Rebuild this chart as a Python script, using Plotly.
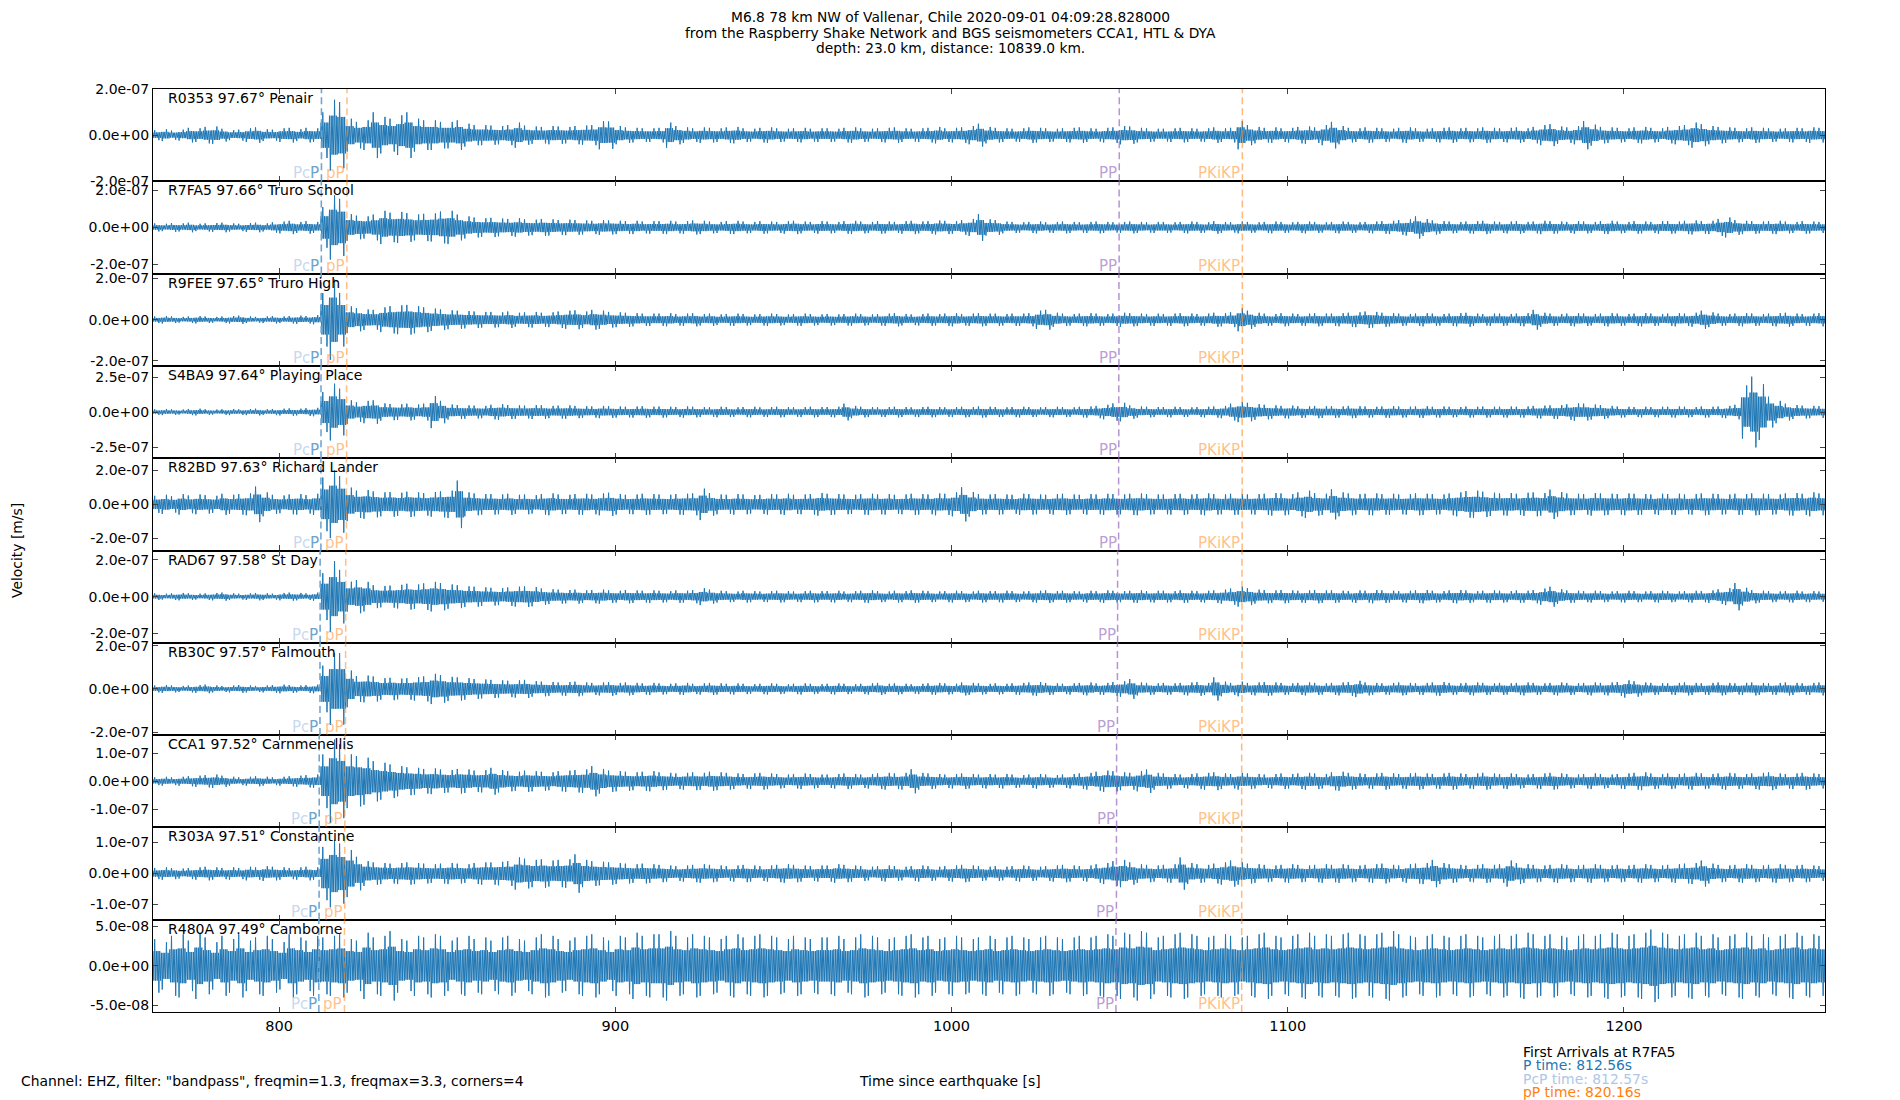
import plotly.graph_objects as go
from plotly.subplots import make_subplots

# stations, top to bottom
stations = ['R0353', 'R7FA5', 'R9FEE', 'S4BA9', 'R82BD', 'RAD67', 'RB30C', 'CCA1', 'R303A', 'R480A']
distances = [97.67, 97.66, 97.65, 97.64, 97.63, 97.58, 97.57, 97.52, 97.51, 97.49]
places = ['Penair', 'Truro School', 'Truro High', 'Playing Place', 'Richard Lander',
          'St Day', 'Falmouth', 'Carnmenellis', 'Constantine', 'Camborne']

# arrival times [s]
p_times = [812.60, 812.56, 812.52, 812.47, 812.43, 812.21, 812.16, 811.94, 811.90, 811.81]
pcp_times = [812.61, 812.57, 812.53, 812.48, 812.44, 812.22, 812.17, 811.95, 811.91, 811.82]
pp_small_times = [820.20, 820.16, 820.12, 820.08, 820.04, 819.82, 819.78, 819.56, 819.52, 819.44]
PP_times = [1049.9, 1049.85, 1049.8, 1049.75, 1049.7, 1049.4, 1049.35, 1049.1, 1049.05, 1048.9]
pkikp_times = [1086.5, 1086.5, 1086.5, 1086.45, 1086.45, 1086.4, 1086.4, 1086.3, 1086.3, 1086.3]

# y axis half ranges and tick values [m/s]
y_half = [2.02e-7, 2.5e-7, 2.24e-7, 3.3e-7, 2.7e-7, 2.5e-7, 2.14e-7, 1.65e-7, 1.49e-7, 5.85e-8]
y_tick = [2e-7, 2e-7, 2e-7, 2.5e-7, 2e-7, 2e-7, 2e-7, 1e-7, 1e-7, 5e-8]

# trace envelope, peak amplitude per 2.5 s window starting at 762.5 s [nm/s]
t_start = 762.5
bin_w = 2.5

amp_R0353 = [22, 26, 20, 24, 32, 30, 36, 38, 28, 22, 24, 30, 34, 26, 24, 30, 32, 26, 32, 30,
             100, 155, 145, 72, 58, 65, 100, 80, 72, 87, 100, 72, 65, 65, 58, 58, 65, 50, 44, 44,
             42, 40, 44, 55, 42, 38, 36, 40, 38, 36, 40, 42, 44, 62, 60, 40, 34, 32, 30, 30,
             32, 55, 40, 34, 30, 34, 32, 30, 34, 36, 30, 28, 32, 34, 30, 28, 30, 32, 28, 30,
             30, 28, 32, 34, 30, 28, 30, 32, 34, 30, 28, 30, 32, 36, 30, 32, 34, 40, 50, 36,
             32, 30, 28, 30, 34, 32, 30, 28, 30, 32, 34, 30, 28, 32, 34, 40, 38, 32, 30, 28,
             28, 30, 32, 30, 28, 30, 34, 30, 32, 62, 44, 36, 32, 34, 30, 32, 36, 38, 34, 44,
             58, 40, 32, 30, 34, 32, 30, 28, 32, 34, 30, 28, 30, 32, 34, 30, 32, 30, 34, 32,
             30, 32, 34, 30, 36, 44, 48, 38, 34, 40, 62, 46, 36, 34, 32, 30, 34, 36, 32, 30,
             36, 40, 44, 55, 48, 40, 36, 34, 32, 30, 34, 32, 30, 28, 30, 32, 30, 34, 32, 30]
amp_R7FA5 = [22, 20, 24, 22, 26, 20, 22, 24, 26, 22, 20, 24, 26, 22, 28, 32, 36, 30, 34, 30,
             110, 174, 155, 72, 64, 60, 70, 90, 80, 84, 78, 70, 74, 76, 86, 90, 70, 60, 54, 50,
             52, 48, 46, 50, 44, 42, 46, 44, 40, 42, 40, 38, 36, 40, 38, 36, 34, 36, 32, 34,
             34, 36, 32, 34, 38, 36, 32, 30, 34, 36, 32, 30, 34, 32, 30, 34, 36, 32, 30, 34,
             32, 30, 34, 36, 32, 30, 34, 32, 30, 34, 36, 32, 34, 38, 36, 34, 40, 46, 72, 44,
             40, 32, 30, 28, 30, 32, 28, 30, 32, 30, 28, 30, 32, 30, 28, 30, 32, 30, 28, 30,
             30, 28, 30, 32, 30, 28, 34, 30, 28, 32, 30, 28, 30, 32, 30, 28, 30, 32, 30, 28,
             30, 32, 30, 28, 30, 32, 34, 36, 40, 44, 60, 46, 38, 34, 32, 30, 32, 34, 36, 32,
             30, 32, 34, 30, 32, 36, 34, 32, 30, 34, 32, 30, 34, 36, 32, 30, 34, 32, 30, 34,
             34, 32, 36, 38, 34, 36, 46, 54, 40, 36, 34, 32, 34, 36, 32, 30, 34, 32, 30, 34]
amp_R9FEE = [16, 18, 16, 14, 16, 18, 16, 14, 16, 18, 20, 16, 14, 16, 18, 16, 18, 20, 18, 22,
             130, 195, 130, 65, 56, 50, 48, 60, 66, 70, 72, 66, 60, 54, 50, 46, 44, 42, 40, 38,
             38, 36, 40, 34, 36, 38, 34, 36, 40, 44, 46, 40, 48, 44, 38, 36, 34, 32, 30, 30,
             30, 32, 28, 30, 32, 28, 30, 26, 28, 30, 28, 26, 28, 30, 28, 26, 28, 30, 28, 26,
             28, 26, 28, 30, 28, 26, 28, 30, 32, 28, 26, 28, 30, 28, 30, 32, 28, 30, 32, 30,
             30, 28, 30, 30, 32, 44, 48, 34, 30, 28, 30, 32, 30, 28, 30, 34, 32, 30, 28, 30,
             28, 30, 32, 30, 28, 30, 34, 32, 36, 56, 44, 34, 30, 28, 32, 30, 28, 30, 32, 30,
             30, 32, 34, 36, 40, 38, 34, 32, 30, 28, 30, 32, 30, 28, 30, 32, 34, 30, 28, 30,
             30, 28, 30, 32, 48, 34, 30, 28, 30, 32, 30, 28, 30, 32, 30, 28, 30, 32, 30, 28,
             30, 32, 30, 34, 44, 36, 30, 28, 30, 32, 30, 28, 30, 32, 34, 30, 28, 30, 32, 30]
amp_S4BA9 = [20, 22, 20, 18, 22, 24, 20, 18, 20, 22, 20, 22, 24, 20, 22, 24, 26, 24, 28, 30,
             143, 203, 167, 84, 70, 80, 84, 62, 58, 56, 60, 54, 60, 115, 80, 54, 50, 48, 46, 44,
             52, 56, 50, 48, 46, 50, 48, 44, 46, 48, 44, 42, 40, 44, 42, 40, 38, 40, 42, 38,
             40, 38, 36, 40, 38, 36, 34, 38, 36, 34, 36, 38, 34, 36, 38, 36, 34, 36, 38, 36,
             36, 38, 60, 44, 38, 36, 34, 36, 38, 36, 34, 36, 38, 36, 34, 36, 38, 36, 40, 38,
             36, 34, 36, 38, 36, 34, 36, 38, 36, 34, 38, 40, 44, 52, 62, 66, 48, 40, 38, 36,
             36, 38, 36, 34, 36, 38, 40, 44, 60, 72, 66, 56, 52, 48, 44, 46, 42, 40, 44, 42,
             42, 40, 44, 42, 40, 38, 40, 42, 40, 38, 40, 42, 38, 40, 38, 36, 40, 38, 40, 38,
             38, 40, 38, 40, 44, 46, 48, 50, 56, 62, 60, 54, 50, 44, 40, 38, 36, 38, 36, 38,
             38, 40, 38, 36, 40, 38, 40, 44, 52, 190, 253, 200, 110, 80, 60, 50, 46, 44, 42, 40]
amp_R82BD = [50, 56, 48, 60, 52, 58, 54, 50, 62, 56, 60, 64, 104, 70, 56, 52, 58, 60, 54, 62,
             157, 198, 166, 98, 80, 84, 76, 70, 72, 68, 74, 70, 66, 72, 76, 80, 139, 70, 64, 60,
             60, 58, 62, 56, 58, 54, 60, 64, 58, 56, 60, 62, 58, 64, 68, 60, 56, 58, 62, 60,
             58, 56, 60, 62, 64, 92, 66, 58, 56, 60, 58, 54, 56, 60, 58, 62, 56, 58, 60, 66,
             62, 60, 58, 56, 60, 62, 58, 60, 56, 58, 62, 60, 58, 64, 62, 70, 100, 72, 60, 58,
             60, 58, 56, 62, 60, 58, 56, 60, 62, 58, 56, 60, 58, 62, 60, 58, 62, 64, 60, 58,
             58, 60, 62, 58, 60, 64, 60, 58, 62, 60, 58, 60, 62, 66, 64, 60, 70, 80, 66, 62,
             88, 70, 64, 60, 62, 64, 60, 62, 58, 60, 64, 62, 60, 58, 64, 70, 78, 80, 74, 68,
             64, 66, 62, 68, 70, 66, 86, 72, 64, 62, 60, 66, 64, 62, 60, 64, 62, 60, 58, 62,
             60, 62, 58, 60, 64, 62, 60, 58, 62, 60, 64, 62, 60, 58, 64, 66, 62, 70, 64, 60]
amp_RAD67 = [18, 16, 18, 20, 18, 16, 18, 20, 22, 18, 16, 18, 20, 18, 16, 20, 22, 20, 18, 22,
             127, 192, 145, 81, 90, 80, 62, 58, 60, 64, 70, 66, 72, 80, 74, 66, 62, 56, 54, 50,
             48, 46, 50, 54, 56, 52, 44, 40, 38, 36, 38, 34, 36, 38, 34, 32, 36, 34, 32, 34,
             32, 30, 34, 32, 36, 46, 38, 32, 30, 28, 32, 30, 28, 30, 32, 30, 28, 30, 32, 30,
             30, 32, 28, 30, 32, 34, 30, 28, 32, 30, 34, 32, 30, 28, 30, 32, 30, 28, 32, 30,
             30, 32, 30, 28, 30, 32, 34, 30, 32, 30, 28, 32, 30, 34, 32, 30, 32, 34, 30, 32,
             32, 30, 34, 32, 30, 32, 34, 38, 44, 54, 46, 38, 36, 34, 36, 34, 32, 34, 36, 34,
             34, 32, 30, 34, 32, 36, 34, 32, 30, 32, 34, 36, 32, 30, 34, 36, 34, 30, 32, 34,
             32, 30, 34, 32, 36, 44, 54, 40, 34, 32, 30, 32, 30, 28, 30, 32, 30, 28, 30, 32,
             30, 28, 30, 32, 30, 34, 40, 46, 74, 48, 36, 32, 30, 28, 30, 32, 28, 30, 28, 30]
amp_RB30C = [16, 18, 16, 14, 16, 18, 20, 16, 14, 16, 18, 16, 14, 16, 18, 20, 18, 16, 18, 20,
             108, 167, 166, 85, 60, 62, 58, 50, 52, 48, 50, 54, 58, 70, 64, 56, 54, 50, 46, 44,
             42, 40, 38, 40, 42, 36, 34, 32, 30, 32, 34, 30, 28, 30, 32, 28, 30, 28, 26, 28,
             26, 24, 26, 28, 24, 26, 28, 26, 24, 26, 24, 22, 24, 26, 24, 22, 24, 26, 24, 22,
             24, 26, 24, 22, 24, 26, 28, 24, 26, 24, 22, 24, 26, 28, 26, 24, 30, 28, 26, 24,
             26, 24, 26, 28, 30, 32, 28, 26, 24, 26, 28, 30, 26, 28, 32, 36, 46, 30, 28, 26,
             28, 26, 28, 30, 32, 28, 54, 34, 28, 34, 28, 30, 32, 30, 28, 26, 28, 30, 28, 26,
             28, 30, 32, 38, 30, 28, 26, 28, 30, 28, 26, 28, 30, 32, 28, 26, 28, 30, 28, 26,
             28, 26, 28, 30, 28, 26, 28, 30, 28, 26, 28, 30, 28, 30, 32, 40, 36, 30, 28, 26,
             26, 28, 30, 28, 26, 28, 30, 28, 26, 28, 30, 28, 26, 28, 30, 28, 26, 28, 30, 28]
amp_CCA1 = [14, 16, 14, 16, 18, 20, 22, 24, 20, 16, 14, 16, 18, 16, 14, 16, 18, 20, 22, 24,
            96, 149, 132, 96, 90, 84, 72, 66, 60, 54, 50, 48, 44, 46, 42, 40, 44, 42, 38, 40,
            48, 40, 36, 34, 38, 36, 34, 32, 36, 38, 40, 42, 54, 44, 38, 36, 34, 32, 34, 36,
            32, 30, 28, 30, 32, 30, 34, 32, 30, 28, 26, 28, 30, 28, 26, 24, 26, 28, 26, 24,
            24, 26, 28, 26, 24, 26, 28, 30, 28, 30, 43, 30, 28, 26, 24, 26, 28, 26, 24, 26,
            24, 26, 24, 22, 24, 26, 24, 22, 24, 26, 28, 30, 34, 38, 36, 32, 30, 36, 42, 30,
            28, 26, 24, 26, 28, 30, 32, 28, 26, 30, 28, 26, 24, 26, 28, 26, 28, 30, 28, 26,
            32, 34, 30, 28, 26, 28, 30, 28, 26, 28, 30, 28, 26, 28, 30, 28, 26, 28, 30, 28,
            26, 28, 26, 24, 26, 28, 30, 28, 26, 24, 26, 28, 26, 24, 26, 28, 30, 32, 28, 26,
            28, 26, 28, 30, 28, 26, 28, 30, 28, 26, 28, 30, 32, 28, 26, 28, 30, 28, 26, 28]
amp_R303A = [18, 20, 18, 16, 18, 20, 22, 20, 18, 20, 18, 22, 20, 24, 22, 20, 18, 20, 22, 20,
             86, 109, 97, 76, 54, 40, 36, 34, 32, 34, 36, 34, 32, 30, 32, 34, 32, 30, 34, 36,
             36, 38, 40, 52, 48, 44, 46, 42, 44, 46, 62, 44, 40, 38, 36, 34, 32, 30, 32, 30,
             28, 26, 24, 26, 28, 30, 28, 26, 24, 26, 28, 26, 24, 26, 28, 30, 28, 26, 24, 26,
             26, 30, 28, 26, 24, 22, 24, 26, 24, 22, 24, 26, 24, 22, 24, 26, 28, 26, 24, 22,
             24, 22, 24, 26, 24, 22, 24, 26, 28, 26, 24, 26, 30, 34, 40, 44, 36, 30, 28, 26,
             28, 30, 52, 34, 30, 28, 32, 36, 42, 36, 32, 30, 28, 26, 28, 30, 28, 26, 28, 30,
             28, 30, 28, 26, 28, 30, 32, 28, 26, 30, 32, 34, 44, 34, 30, 28, 26, 28, 30, 28,
             30, 42, 34, 30, 28, 26, 28, 30, 28, 26, 28, 30, 28, 26, 28, 26, 28, 30, 28, 26,
             28, 30, 32, 34, 42, 32, 28, 26, 28, 30, 28, 26, 28, 30, 28, 26, 28, 26, 24, 26]
amp_R480A = [34, 30, 38, 40, 32, 42, 36, 30, 38, 34, 40, 32, 36, 38, 34, 30, 40, 36, 32, 38,
             36, 38, 40, 34, 32, 42, 36, 38, 44, 34, 32, 38, 36, 40, 38, 32, 36, 38, 34, 36,
             32, 36, 38, 34, 32, 36, 40, 38, 34, 32, 36, 38, 40, 36, 32, 38, 36, 42, 38, 40,
             40, 44, 38, 36, 40, 38, 36, 34, 38, 40, 36, 38, 40, 38, 36, 34, 38, 36, 34, 36,
             36, 38, 34, 36, 40, 38, 36, 34, 36, 38, 40, 36, 38, 34, 36, 38, 36, 34, 36, 38,
             34, 36, 38, 36, 34, 36, 38, 36, 34, 36, 38, 36, 38, 40, 38, 42, 40, 44, 42, 36,
             38, 40, 42, 40, 38, 36, 38, 40, 38, 36, 38, 40, 42, 38, 36, 38, 40, 42, 38, 40,
             38, 40, 42, 40, 38, 40, 42, 44, 40, 38, 36, 38, 40, 38, 36, 38, 40, 38, 36, 38,
             40, 38, 40, 42, 40, 38, 40, 38, 36, 38, 40, 38, 40, 42, 40, 38, 40, 42, 46, 42,
             40, 38, 40, 42, 38, 40, 36, 38, 40, 42, 38, 40, 36, 38, 40, 42, 38, 40, 38, 36]

amps = [amp_R0353, amp_R7FA5, amp_R9FEE, amp_S4BA9, amp_R82BD,
        amp_RAD67, amp_RB30C, amp_CCA1, amp_R303A, amp_R480A]

x_ticks = [800, 900, 1000, 1100, 1200]

FONT = 'DejaVu Sans'
W, H = 1900, 1100
L, R, T, B = 153, 75, 89, 88


def wiggle(a_list):
    # each window: dense smaller swings plus one up and one down peak,
    # peaks put at different spots in alternate windows
    ts, vs = [], []
    for k, a in enumerate(a_list):
        t0 = t_start + k * bin_w
        c = a * 0.55
        if k % 2 == 0:
            swing = [c, -c, a, -c, c, -c, c, -a, c, -c]
        else:
            swing = [c, -a, c, -c, c, -c, a, -c, c, -c]
        for j, v in enumerate(swing):
            ts.append(t0 + j * bin_w / len(swing))
            vs.append(v * 1e-9)
    return ts, vs


def px(xs, ys):
    # picture pixel -> paper coords
    return (xs - L) / (W - L - R), (H - B - ys) / (H - T - B)


n = len(stations)
fig = make_subplots(rows=n, cols=1, shared_xaxes=True, vertical_spacing=0)

for i in range(n):
    ts, vs = wiggle(amps[i])
    fig.add_trace(go.Scatter(x=ts, y=vs, mode='lines', line=dict(color='#1f77b4', width=1),
                             showlegend=False, hoverinfo='skip'), row=i + 1, col=1)

    xr = 'x' if i == 0 else 'x%d' % (i + 1)
    yr = 'y' if i == 0 else 'y%d' % (i + 1)

    lines = [(pcp_times[i], 'rgba(174,199,232,0.9)'),
             (p_times[i], 'rgba(31,119,180,0.45)'),
             (pp_small_times[i], 'rgba(255,127,14,0.5)'),
             (PP_times[i], 'rgba(148,103,189,0.7)'),
             (pkikp_times[i], 'rgba(255,127,14,0.55)')]
    for tx, col in lines:
        fig.add_shape(type='line', xref=xr, yref=yr + ' domain', x0=tx, x1=tx, y0=0, y1=1,
                      line=dict(color=col, width=1.5, dash='7px,4px'))

    labels = [(pcp_times[i], 'PcP', 'rgba(174,199,232,0.7)'),
              (p_times[i], 'P', 'rgba(31,119,180,0.55)'),
              (pp_small_times[i], 'pP', 'rgba(255,127,14,0.5)'),
              (PP_times[i], 'PP', 'rgba(148,103,189,0.65)'),
              (pkikp_times[i], 'PKiKP', 'rgba(255,127,14,0.5)')]
    for tx, txt, col in labels:
        fig.add_annotation(x=tx, y=0, xref=xr, yref=yr + ' domain', text=txt, showarrow=False,
                           xanchor='right', yanchor='bottom', xshift=0, yshift=-3,
                           font=dict(family=FONT, size=15, color=col))

    fig.add_annotation(x=0.008, y=1, xref=xr + ' domain', yref=yr + ' domain',
                       text='%s %.2f° %s' % (stations[i], distances[i], places[i]),
                       showarrow=False, xanchor='left', yanchor='top', yshift=1,
                       font=dict(family=FONT, size=14, color='black'))

    yt = [y_tick[i], 0, -y_tick[i]]
    fig.update_yaxes(row=i + 1, col=1, range=[-y_half[i], y_half[i]], tickvals=yt,
                     ticktext=['%.1e' % v for v in yt], ticks='inside', ticklen=5,
                     showline=True, linecolor='black', linewidth=1.3, mirror='ticks',
                     showgrid=False, zeroline=False,
                     tickfont=dict(family=FONT, size=14, color='black'))
    fig.update_xaxes(row=i + 1, col=1, range=[762.5, 1259.8], tickvals=x_ticks,
                     ticks='inside', ticklen=5, showline=True, linecolor='black',
                     linewidth=1.3, mirror='ticks', showgrid=False, zeroline=False,
                     tickfont=dict(family=FONT, size=14.5, color='black'))

# titles and side texts
title_lines = ['M6.8 78 km NW of Vallenar, Chile 2020-09-01 04:09:28.828000',
               'from the Raspberry Shake Network and BGS seismometers CCA1, HTL & DYA',
               'depth: 23.0 km, distance: 10839.0 km.']
for k, line in enumerate(title_lines):
    xp, yp = px(950, 17 + 15.5 * k)
    fig.add_annotation(x=xp, y=yp, xref='paper', yref='paper', text=line, showarrow=False,
                       xanchor='center', yanchor='middle',
                       font=dict(family=FONT, size=13.8, color='black'))

xp, yp = px(19, 1081)
fig.add_annotation(x=xp, y=yp, xref='paper', yref='paper',
                   text='Channel: EHZ, filter: "bandpass", freqmin=1.3, freqmax=3.3, corners=4',
                   showarrow=False, xanchor='left', yanchor='middle',
                   font=dict(family=FONT, size=13.9, color='black'))
xp, yp = px(950, 1081)
fig.add_annotation(x=xp, y=yp, xref='paper', yref='paper', text='Time since earthquake [s]',
                   showarrow=False, xanchor='center', yanchor='middle',
                   font=dict(family=FONT, size=13.9, color='black'))
xp, yp = px(17, 551)
fig.add_annotation(x=xp, y=yp, xref='paper', yref='paper', text='Velocity [m/s]',
                   showarrow=False, textangle=-90, xanchor='center', yanchor='middle',
                   font=dict(family=FONT, size=13.9, color='black'))

arrivals = [('First Arrivals at R7FA5', 'black'),
            ('P time: 812.56s', '#1f77b4'),
            ('PcP time: 812.57s', '#aec7e8'),
            ('pP time: 820.16s', '#ff7f0e')]
for k, (txt, col) in enumerate(arrivals):
    xp, yp = px(1521, 1052 + 13.4 * k)
    fig.add_annotation(x=xp, y=yp, xref='paper', yref='paper', text=txt, showarrow=False,
                       xanchor='left', yanchor='middle',
                       font=dict(family=FONT, size=13.9, color=col))

fig.update_layout(width=W, height=H, margin=dict(l=L, r=R, t=T, b=B),
                  plot_bgcolor='white', paper_bgcolor='white', showlegend=False,
                  font=dict(family=FONT, color='black'))

# drop the page's default body margin so the figure sits at the window corner
fig.write_html('out.html', config={'displayModeBar': False},
               post_script="document.body.style.margin='0';document.body.style.overflow='hidden';")
